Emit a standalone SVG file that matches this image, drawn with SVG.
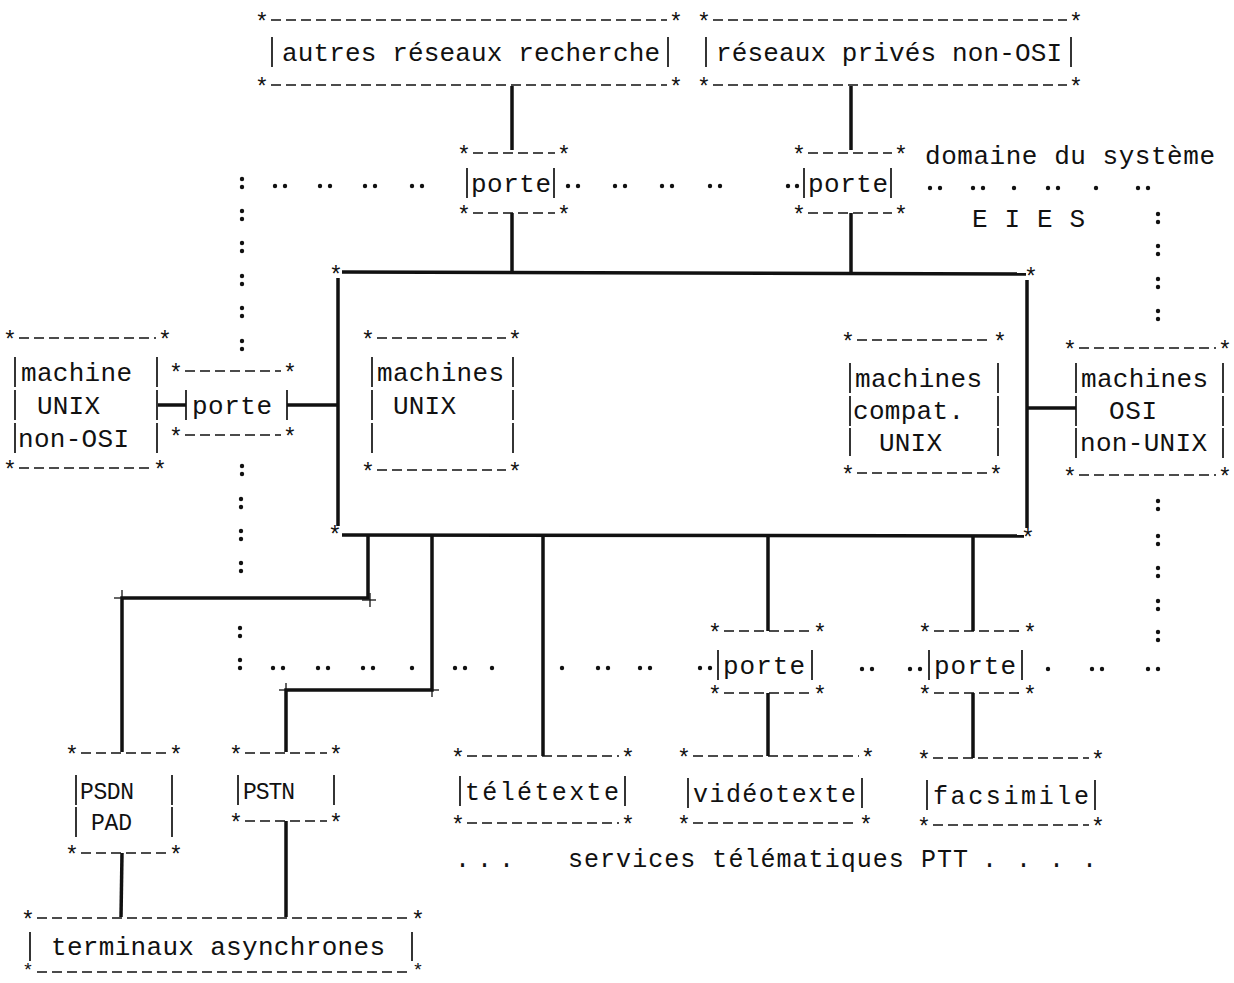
<svg xmlns="http://www.w3.org/2000/svg" width="1234" height="983" viewBox="0 0 1234 983">
<style>
.t{font-family:"Liberation Mono","DejaVu Sans Mono",monospace;font-size:26px;fill:#111}
.n{font-family:"Liberation Mono","DejaVu Sans Mono",monospace;font-size:25px;fill:#111}
.p{font-family:"Liberation Mono","DejaVu Sans Mono",monospace;font-size:23px;fill:#111}
.s{font-family:"Liberation Mono","DejaVu Sans Mono",monospace;font-size:23px;fill:#111;text-anchor:middle}
.d{stroke:#111;stroke-width:1.7;stroke-dasharray:10 5;fill:none}
.b{stroke:#111;stroke-width:1.7}
.c{stroke:#111;stroke-width:3.5;fill:none}
.k{stroke:#111;stroke-width:1.3}
.o{fill:#111}
</style>
<rect width="1234" height="983" fill="#fff"/>

<g id="box-autres-reseaux">
<text class="s" x="262" y="30">*</text><text class="s" x="676" y="30">*</text>
<text class="s" x="262" y="95">*</text><text class="s" x="676" y="95">*</text>
<line class="d" x1="271" y1="20" x2="667" y2="20"/><line class="d" x1="271" y1="85" x2="667" y2="85"/>
<line class="b" x1="272" y1="37" x2="272" y2="67"/><line class="b" x1="668" y1="37" x2="668" y2="67"/>
<text class="t" x="282" y="61" textLength="378">autres réseaux recherche</text>
</g>

<g id="box-reseaux-prives">
<text class="s" x="704" y="30">*</text><text class="s" x="1076" y="30">*</text>
<text class="s" x="704" y="95">*</text><text class="s" x="1076" y="95">*</text>
<line class="d" x1="713" y1="20" x2="1067" y2="20"/><line class="d" x1="713" y1="85" x2="1067" y2="85"/>
<line class="b" x1="706" y1="37" x2="706" y2="67"/><line class="b" x1="1071" y1="37" x2="1071" y2="67"/>
<text class="t" x="716" y="61" textLength="346">réseaux privés non-OSI</text>
</g>

<g id="porte-1">
<text class="s" x="464" y="163">*</text><text class="s" x="564" y="163">*</text>
<text class="s" x="464" y="223">*</text><text class="s" x="564" y="223">*</text>
<line class="d" x1="473" y1="153" x2="555" y2="153"/><line class="d" x1="473" y1="213" x2="555" y2="213"/>
<line class="b" x1="467" y1="168" x2="467" y2="198"/><line class="b" x1="554" y1="168" x2="554" y2="198"/>
<text class="t" x="471" y="192" textLength="80">porte</text>
</g>

<g id="porte-2">
<text class="s" x="799" y="163">*</text><text class="s" x="901" y="163">*</text>
<text class="s" x="799" y="223">*</text><text class="s" x="901" y="223">*</text>
<line class="d" x1="808" y1="153" x2="892" y2="153"/><line class="d" x1="808" y1="213" x2="892" y2="213"/>
<line class="b" x1="804" y1="168" x2="804" y2="198"/><line class="b" x1="891" y1="168" x2="891" y2="198"/>
<text class="t" x="808" y="192" textLength="80">porte</text>
</g>

<g id="label-domaine">
<text class="t" x="925" y="164" textLength="290">domaine du système</text>
<text class="t" x="972" y="227" textLength="113">E I E S</text>
</g>

<g id="main-box">
<text class="s" x="336" y="283">*</text><text class="s" x="1031" y="285">*</text>
<text class="s" x="335" y="543">*</text><text class="s" x="1028" y="546">*</text>
<line class="c" x1="342" y1="272" x2="1026" y2="274"/>
<line class="c" x1="338" y1="278" x2="338" y2="526"/>
<line class="c" x1="1027" y1="280" x2="1027" y2="528"/>
<line class="c" x1="342" y1="535" x2="1024" y2="536"/>
</g>

<g id="machines-unix">
<text class="s" x="368" y="348">*</text><text class="s" x="515" y="348">*</text>
<text class="s" x="368" y="480">*</text><text class="s" x="515" y="480">*</text>
<line class="d" x1="377" y1="338" x2="506" y2="338"/><line class="d" x1="377" y1="470" x2="506" y2="470"/>
<line class="b" x1="372" y1="357" x2="372" y2="387"/><line class="b" x1="372" y1="390" x2="372" y2="420"/><line class="b" x1="372" y1="423" x2="372" y2="453"/>
<line class="b" x1="513" y1="357" x2="513" y2="387"/><line class="b" x1="513" y1="390" x2="513" y2="420"/><line class="b" x1="513" y1="423" x2="513" y2="453"/>
<text class="t" x="377" y="381" textLength="127">machines</text>
<text class="t" x="393" y="414" textLength="63">UNIX</text>
</g>

<g id="machines-compat-unix">
<text class="s" x="848" y="350">*</text><text class="s" x="1000" y="350">*</text>
<text class="s" x="848" y="483">*</text><text class="s" x="996" y="483">*</text>
<line class="d" x1="857" y1="340" x2="991" y2="340"/><line class="d" x1="857" y1="473" x2="987" y2="473"/>
<line class="b" x1="850" y1="363" x2="850" y2="393"/><line class="b" x1="850" y1="396" x2="850" y2="426"/><line class="b" x1="850" y1="428" x2="850" y2="456"/>
<line class="b" x1="998" y1="363" x2="998" y2="393"/><line class="b" x1="998" y1="396" x2="998" y2="426"/><line class="b" x1="998" y1="428" x2="998" y2="456"/>
<text class="t" x="855" y="387" textLength="127">machines</text>
<text class="t" x="853" y="419" textLength="111">compat.</text>
<text class="t" x="879" y="451" textLength="63">UNIX</text>
</g>

<g id="machine-unix-non-osi">
<text class="s" x="10" y="348">*</text><text class="s" x="165" y="348">*</text>
<text class="s" x="10" y="478">*</text><text class="s" x="160" y="478">*</text>
<line class="d" x1="19" y1="338" x2="156" y2="338"/><line class="d" x1="19" y1="468" x2="151" y2="468"/>
<line class="b" x1="15" y1="357" x2="15" y2="387"/><line class="b" x1="15" y1="390" x2="15" y2="420"/><line class="b" x1="15" y1="423" x2="15" y2="453"/>
<line class="b" x1="157" y1="357" x2="157" y2="387"/><line class="b" x1="157" y1="390" x2="157" y2="420"/><line class="b" x1="157" y1="423" x2="157" y2="453"/>
<text class="t" x="21" y="381" textLength="111">machine</text>
<text class="t" x="37" y="414" textLength="63">UNIX</text>
<text class="t" x="18" y="447" textLength="111">non-OSI</text>
</g>

<g id="porte-left">
<text class="s" x="176" y="381">*</text><text class="s" x="290" y="381">*</text>
<text class="s" x="176" y="445">*</text><text class="s" x="290" y="445">*</text>
<line class="d" x1="185" y1="371" x2="281" y2="371"/><line class="d" x1="185" y1="435" x2="281" y2="435"/>
<line class="b" x1="186" y1="390" x2="186" y2="420"/><line class="b" x1="287" y1="390" x2="287" y2="420"/>
<text class="t" x="192" y="414" textLength="80">porte</text>
</g>

<g id="machines-osi-non-unix">
<text class="s" x="1070" y="358">*</text><text class="s" x="1225" y="358">*</text>
<text class="s" x="1070" y="485">*</text><text class="s" x="1225" y="485">*</text>
<line class="d" x1="1079" y1="348" x2="1216" y2="348"/><line class="d" x1="1079" y1="475" x2="1216" y2="475"/>
<line class="b" x1="1076" y1="363" x2="1076" y2="393"/><line class="b" x1="1076" y1="396" x2="1076" y2="426"/><line class="b" x1="1076" y1="428" x2="1076" y2="458"/>
<line class="b" x1="1223" y1="363" x2="1223" y2="393"/><line class="b" x1="1223" y1="396" x2="1223" y2="426"/><line class="b" x1="1223" y1="428" x2="1223" y2="458"/>
<text class="t" x="1081" y="387" textLength="127">machines</text>
<text class="t" x="1109" y="419" textLength="48">OSI</text>
<text class="t" x="1080" y="451" textLength="127">non-UNIX</text>
</g>

<g id="porte-3">
<text class="s" x="715" y="641">*</text><text class="s" x="820" y="641">*</text>
<text class="s" x="715" y="703">*</text><text class="s" x="820" y="703">*</text>
<line class="d" x1="724" y1="631" x2="811" y2="631"/><line class="d" x1="724" y1="693" x2="811" y2="693"/>
<line class="b" x1="718" y1="650" x2="718" y2="680"/><line class="b" x1="812" y1="650" x2="812" y2="680"/>
<text class="t" x="723" y="674" textLength="82">porte</text>
</g>

<g id="porte-4">
<text class="s" x="925" y="641">*</text><text class="s" x="1030" y="641">*</text>
<text class="s" x="925" y="703">*</text><text class="s" x="1030" y="703">*</text>
<line class="d" x1="934" y1="631" x2="1021" y2="631"/><line class="d" x1="934" y1="693" x2="1021" y2="693"/>
<line class="b" x1="929" y1="650" x2="929" y2="680"/><line class="b" x1="1022" y1="650" x2="1022" y2="680"/>
<text class="t" x="934" y="674" textLength="82">porte</text>
</g>

<g id="psdn-pad">
<text class="s" x="72" y="763">*</text><text class="s" x="176" y="763">*</text>
<text class="s" x="72" y="863">*</text><text class="s" x="176" y="863">*</text>
<line class="d" x1="81" y1="753" x2="167" y2="753"/><line class="d" x1="81" y1="853" x2="167" y2="853"/>
<line class="b" x1="76" y1="775" x2="76" y2="805"/><line class="b" x1="76" y1="807" x2="76" y2="837"/>
<line class="b" x1="172" y1="775" x2="172" y2="805"/><line class="b" x1="172" y1="807" x2="172" y2="837"/>
<text class="p" x="80" y="799" textLength="54">PSDN</text>
<text class="p" x="91" y="830" textLength="41">PAD</text>
</g>

<g id="pstn">
<text class="s" x="236" y="763">*</text><text class="s" x="336" y="763">*</text>
<text class="s" x="236" y="831">*</text><text class="s" x="336" y="831">*</text>
<line class="d" x1="245" y1="753" x2="327" y2="753"/><line class="d" x1="245" y1="821" x2="327" y2="821"/>
<line class="b" x1="238" y1="775" x2="238" y2="805"/><line class="b" x1="334" y1="775" x2="334" y2="805"/>
<text class="p" x="243" y="799" textLength="52">PSTN</text>
</g>

<g id="teletexte">
<text class="s" x="458" y="766">*</text><text class="s" x="628" y="766">*</text>
<text class="s" x="458" y="833">*</text><text class="s" x="628" y="833">*</text>
<line class="d" x1="467" y1="756" x2="619" y2="756"/><line class="d" x1="467" y1="823" x2="619" y2="823"/>
<line class="b" x1="460" y1="776" x2="460" y2="806"/><line class="b" x1="625" y1="776" x2="625" y2="806"/>
<text class="n" x="465" y="800" textLength="154">télétexte</text>
</g>

<g id="videotexte">
<text class="s" x="684" y="766">*</text><text class="s" x="868" y="766">*</text>
<text class="s" x="684" y="833">*</text><text class="s" x="866" y="833">*</text>
<line class="d" x1="693" y1="756" x2="859" y2="756"/><line class="d" x1="693" y1="823" x2="857" y2="823"/>
<line class="b" x1="688" y1="778" x2="688" y2="808"/><line class="b" x1="862" y1="778" x2="862" y2="808"/>
<text class="n" x="693" y="802" textLength="163">vidéotexte</text>
</g>

<g id="facsimile">
<text class="s" x="924" y="768">*</text><text class="s" x="1098" y="768">*</text>
<text class="s" x="924" y="835">*</text><text class="s" x="1098" y="835">*</text>
<line class="d" x1="933" y1="758" x2="1089" y2="758"/><line class="d" x1="933" y1="825" x2="1089" y2="825"/>
<line class="b" x1="927" y1="780" x2="927" y2="810"/><line class="b" x1="1095" y1="780" x2="1095" y2="810"/>
<text class="n" x="933" y="804" textLength="156">facsimile</text>
</g>

<g id="label-services">
<text class="n" x="455 477 499" y="867">...</text>
<text class="n" x="568" y="867" textLength="400">services télématiques PTT</text>
<text class="n" x="982 1016 1049 1082" y="867">....</text>
</g>

<g id="terminaux">
<text class="s" x="28" y="928">*</text><text class="s" x="418" y="928">*</text>
<text class="s" x="28" y="976" style="font-size:19px">*</text><text class="s" x="418" y="976" style="font-size:19px">*</text>
<line class="d" x1="37" y1="918" x2="409" y2="918"/><line class="d" x1="37" y1="972" x2="409" y2="972"/>
<line class="b" x1="30" y1="932" x2="30" y2="961"/><line class="b" x1="412" y1="932" x2="412" y2="961"/>
<text class="t" x="51" y="955" textLength="334">terminaux asynchrones</text>
</g>

<g id="connectors">
<line class="c" x1="512" y1="86" x2="512" y2="150"/>
<line class="c" x1="512" y1="213" x2="512" y2="272"/>
<line class="c" x1="851" y1="86" x2="851" y2="150"/>
<line class="c" x1="851" y1="213" x2="851" y2="272"/>
<line class="c" x1="158" y1="405" x2="186" y2="405"/>
<line class="c" x1="287" y1="405" x2="338" y2="405"/>
<line class="c" x1="1027" y1="408" x2="1076" y2="408"/>
<polyline class="c" points="368,536 368,598 122,598 122,752"/>
<polyline class="c" points="432,536 432,690 286,690 286,752"/>
<line class="c" x1="543" y1="536" x2="543" y2="756"/>
<line class="c" x1="768" y1="536" x2="768" y2="631"/>
<line class="c" x1="768" y1="693" x2="768" y2="756"/>
<line class="c" x1="973" y1="536" x2="973" y2="631"/>
<line class="c" x1="973" y1="693" x2="973" y2="758"/>
<line class="c" x1="122" y1="853" x2="121" y2="917"/>
<line class="c" x1="286" y1="821" x2="286" y2="917"/>
<line class="k" x1="114" y1="598" x2="130" y2="598"/><line class="k" x1="122" y1="590" x2="122" y2="606"/>
<line class="k" x1="362" y1="600" x2="376" y2="600"/><line class="k" x1="370" y1="593" x2="370" y2="607"/>
<line class="k" x1="279" y1="690" x2="293" y2="690"/><line class="k" x1="286" y1="683" x2="286" y2="697"/>
<line class="k" x1="425" y1="690" x2="439" y2="690"/><line class="k" x1="432" y1="683" x2="432" y2="697"/>
</g>

<g id="domain-boundary" class="o">
<circle cx="242" cy="179" r="2.2"/><circle cx="242" cy="187" r="2.2"/>
<circle cx="275" cy="186" r="2.2"/><circle cx="285" cy="186" r="2.2"/>
<circle cx="320" cy="186" r="2.2"/><circle cx="330" cy="186" r="2.2"/>
<circle cx="365" cy="186" r="2.2"/><circle cx="375" cy="186" r="2.2"/>
<circle cx="412" cy="186" r="2.2"/><circle cx="422" cy="186" r="2.2"/>
<circle cx="568" cy="186" r="2.2"/><circle cx="578" cy="186" r="2.2"/>
<circle cx="615" cy="186" r="2.2"/><circle cx="625" cy="186" r="2.2"/>
<circle cx="662" cy="186" r="2.2"/><circle cx="672" cy="186" r="2.2"/>
<circle cx="710" cy="186" r="2.2"/><circle cx="720" cy="186" r="2.2"/>
<circle cx="788" cy="186" r="2.2"/><circle cx="797" cy="186" r="2.2"/>
<circle cx="930" cy="188" r="2.2"/><circle cx="940" cy="188" r="2.2"/>
<circle cx="973" cy="188" r="2.2"/><circle cx="983" cy="188" r="2.2"/>
<circle cx="1014" cy="188" r="2.2"/>
<circle cx="1048" cy="188" r="2.2"/><circle cx="1058" cy="188" r="2.2"/>
<circle cx="1096" cy="188" r="2.2"/>
<circle cx="1138" cy="188" r="2.2"/><circle cx="1148" cy="188" r="2.2"/>
<circle cx="242" cy="211" r="2.2"/><circle cx="242" cy="219" r="2.2"/>
<circle cx="242" cy="243" r="2.2"/><circle cx="242" cy="251" r="2.2"/>
<circle cx="242" cy="276" r="2.2"/><circle cx="242" cy="284" r="2.2"/>
<circle cx="242" cy="308" r="2.2"/><circle cx="242" cy="316" r="2.2"/>
<circle cx="242" cy="341" r="2.2"/><circle cx="242" cy="349" r="2.2"/>
<circle cx="242" cy="466" r="2.2"/><circle cx="242" cy="474" r="2.2"/>
<circle cx="241" cy="499" r="2.2"/><circle cx="241" cy="507" r="2.2"/>
<circle cx="241" cy="531" r="2.2"/><circle cx="241" cy="539" r="2.2"/>
<circle cx="241" cy="563" r="2.2"/><circle cx="241" cy="571" r="2.2"/>
<circle cx="240" cy="628" r="2.2"/><circle cx="240" cy="636" r="2.2"/>
<circle cx="1158" cy="214" r="2.2"/><circle cx="1158" cy="222" r="2.2"/>
<circle cx="1158" cy="246" r="2.2"/><circle cx="1158" cy="254" r="2.2"/>
<circle cx="1158" cy="279" r="2.2"/><circle cx="1158" cy="287" r="2.2"/>
<circle cx="1158" cy="311" r="2.2"/><circle cx="1158" cy="319" r="2.2"/>
<circle cx="1158" cy="501" r="2.2"/><circle cx="1158" cy="509" r="2.2"/>
<circle cx="1158" cy="536" r="2.2"/><circle cx="1158" cy="544" r="2.2"/>
<circle cx="1158" cy="568" r="2.2"/><circle cx="1158" cy="576" r="2.2"/>
<circle cx="1158" cy="601" r="2.2"/><circle cx="1158" cy="609" r="2.2"/>
<circle cx="1158" cy="632" r="2.2"/><circle cx="1158" cy="640" r="2.2"/>
<circle cx="240" cy="660" r="2.2"/><circle cx="240" cy="668" r="2.2"/>
<circle cx="273" cy="668" r="2.2"/><circle cx="283" cy="668" r="2.2"/>
<circle cx="318" cy="668" r="2.2"/><circle cx="328" cy="668" r="2.2"/>
<circle cx="363" cy="668" r="2.2"/><circle cx="373" cy="668" r="2.2"/>
<circle cx="412" cy="668" r="2.2"/>
<circle cx="455" cy="668" r="2.2"/><circle cx="465" cy="668" r="2.2"/>
<circle cx="492" cy="668" r="2.2"/>
<circle cx="562" cy="668" r="2.2"/>
<circle cx="598" cy="668" r="2.2"/><circle cx="608" cy="668" r="2.2"/>
<circle cx="640" cy="668" r="2.2"/><circle cx="650" cy="668" r="2.2"/>
<circle cx="700" cy="668" r="2.2"/><circle cx="710" cy="668" r="2.2"/>
<circle cx="862" cy="669" r="2.2"/><circle cx="872" cy="669" r="2.2"/>
<circle cx="910" cy="669" r="2.2"/><circle cx="920" cy="669" r="2.2"/>
<circle cx="1048" cy="669" r="2.2"/>
<circle cx="1092" cy="669" r="2.2"/><circle cx="1102" cy="669" r="2.2"/>
<circle cx="1148" cy="669" r="2.2"/><circle cx="1158" cy="669" r="2.2"/>
</g>
</svg>
